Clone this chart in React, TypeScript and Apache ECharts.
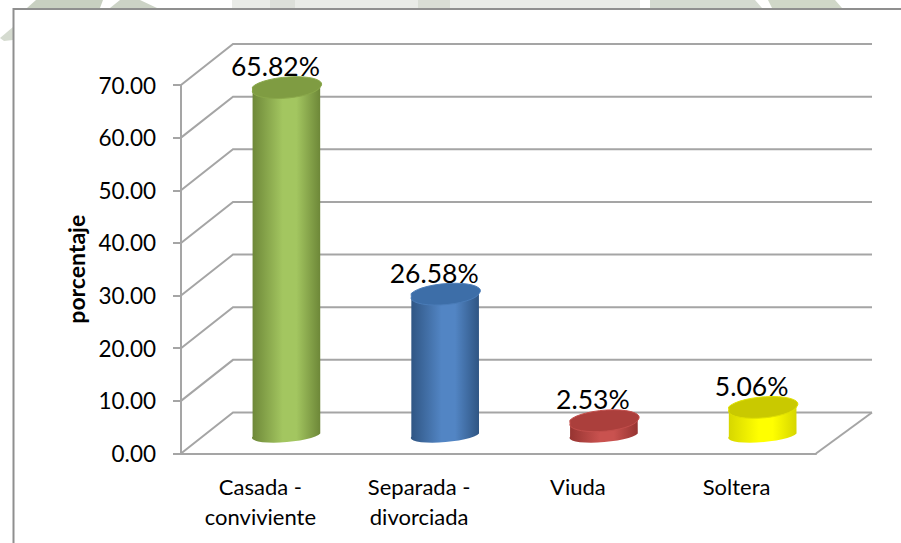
import React, { useEffect, useRef } from "react";
import * as echarts from "echarts";

const categories = ["Casada -\nconviviente", "Separada -\ndivorciada", "Viuda", "Soltera"];
const percentages = [65.82, 26.58, 2.53, 5.06];
const yTicks = [0, 10, 20, 30, 40, 50, 60, 70];
const yTitle = "porcentaje";

const palette = [
  { edge: "#6d8738", mid: "#a3c660", top: "#7f9c42", rim: "#8aa84a" },
  { edge: "#2f5583", mid: "#5285c4", top: "#3d6ea8", rim: "#4a7cb8" },
  { edge: "#963431", mid: "#c9524f", top: "#ab3f3c", rim: "#c24e4b" },
  { edge: "#d6d600", mid: "#ffff00", top: "#c9c900", rim: "#e0e000" },
];

const FONT = "Lato, 'Noto Sans', sans-serif";
const LINE = "#a5a5a5";
const DX = 52;
const DY = -41;

const WASH: [string, number[][]][] = [
  ["#c8d0c1", [[27, 8], [36, 0], [103, 0], [100, 8]]],
  ["#ccd3c6", [[110, 8], [120, 0], [140, 0], [157, 8]]],
  ["#e9ebe7", [[232, 0], [418, 0], [418, 8], [232, 8]]],
  ["#dcdfd9", [[270, 0], [295, 0], [295, 8], [270, 8]]],
  ["#d9ddd5", [[418, 0], [450, 0], [450, 8], [418, 8]]],
  ["#e9ebe7", [[450, 0], [640, 0], [640, 8], [450, 8]]],
  ["#d4dad0", [[650, 0], [755, 0], [762, 8], [650, 8]]],
  ["#d0d7c8", [[768, 0], [835, 0], [842, 8], [772, 8]]],
  ["#d5dbd0", [[0, 38], [13, 27], [13, 40], [4, 41]]],
];

function cylinderItem(params: any, api: any) {
  const i = api.value(0);
  const v = api.value(1);
  const c = palette[i];
  const base = api.coord([i, 0]);
  const top = api.coord([i, v]);
  const cx = base[0] + 26;
  const by = base[1] - 20;
  const ty = top[1] - 20;
  const a = 34;
  const tx = 33.8;
  const tilt = 3;
  const baseArc = `A ${a} 7 -5`;
  const capArc = `A ${a} 9.5 -5`;
  const body =
    `M ${cx - tx} ${ty + tilt} L ${cx - tx} ${by + tilt} ${baseArc} 0 0 ${cx + tx} ${by - tilt} ` +
    `L ${cx + tx} ${ty - tilt} ${capArc} 0 1 ${cx - tx} ${ty + tilt} Z`;
  const cap =
    `M ${cx - tx} ${ty + tilt} ${capArc} 1 0 ${cx + tx} ${ty - tilt} ${capArc} 1 0 ${cx - tx} ${ty + tilt} Z`;
  return {
    type: "group",
    children: [
      {
        type: "path",
        shape: { pathData: body },
        style: {
          fill: new echarts.graphic.LinearGradient(0, 0, 1, 0, [
            { offset: 0, color: c.edge },
            { offset: 0.45, color: c.mid },
            { offset: 0.65, color: c.mid },
            { offset: 1, color: c.edge },
          ]),
        },
      },
      {
        type: "path",
        shape: { pathData: cap },
        style: { fill: c.top, stroke: c.rim, lineWidth: 1 },
      },
      {
        type: "text",
        x: cx - 11,
        y: ty - 21,
        style: {
          text: `${v.toFixed(2)}%`,
          fill: "#000",
          font: `26.5px ${FONT}`,
          textAlign: "center",
          textVerticalAlign: "middle",
        },
      },
    ],
  };
}

function wallItem(params: any, api: any) {
  const v = api.value(1);
  const y = api.coord([0, v])[1];
  const x0 = params.coordSys.x;
  const x1 = x0 + params.coordSys.width;
  const children: any[] = [
    {
      type: "polyline",
      shape: { points: [[x0, y], [x0 + DX, y + DY], [x1 + 56, y + DY]] },
      style: { stroke: LINE, lineWidth: 2, fill: "none" },
    },
  ];
  if (v === 0) {
    children.push({
      type: "line",
      shape: { x1, y1: y, x2: x1 + 56, y2: y + DY },
      style: { stroke: LINE, lineWidth: 2 },
    });
  }
  return { type: "group", children };
}

export default function App() {
  const ref = useRef<HTMLDivElement>(null);
  useEffect(() => {
    document.body.style.margin = "0";
    const chart = echarts.init(ref.current!, null, { renderer: "svg" });
    chart.setOption({
      animation: false,
      backgroundColor: "#fff",
      textStyle: { fontFamily: FONT },
      graphic: [
        ...WASH.map(([fill, points]) => ({
          type: "polygon",
          silent: true,
          shape: { points },
          style: { fill },
        })),
        {
          type: "polyline",
          silent: true,
          shape: { points: [[13.5, 543], [13.5, 9], [901, 9]] },
          style: { stroke: "#8f8f8f", lineWidth: 2, fill: "none" },
        },
      ],
      grid: { left: 181, top: 85, right: 85, bottom: 89.5 },
      xAxis: {
        type: "category",
        data: categories,
        axisTick: { show: false },
        axisLine: { lineStyle: { color: LINE, width: 2 } },
        axisLabel: { color: "#000", fontSize: 22, lineHeight: 30, margin: 18, fontFamily: FONT },
      },
      yAxis: {
        type: "value",
        min: yTicks[0],
        max: yTicks[yTicks.length - 1],
        interval: 10,
        name: yTitle,
        nameLocation: "middle",
        nameGap: 93,
        nameTextStyle: { color: "#000", fontSize: 23, fontWeight: "bold", fontFamily: FONT },
        splitLine: { show: false },
        axisLine: { show: true, lineStyle: { color: LINE, width: 2 } },
        axisTick: { show: true, length: 8, lineStyle: { color: LINE, width: 2 } },
        axisLabel: {
          color: "#000",
          fontSize: 22.5,
          margin: 25,
          fontFamily: FONT,
          formatter: (v: number) => v.toFixed(2),
        },
      },
      series: [
        {
          type: "custom",
          silent: true,
          clip: false,
          z: 1,
          data: yTicks.map((v) => [0, v]),
          encode: { x: 0, y: 1 },
          renderItem: wallItem,
        },
        {
          type: "custom",
          silent: true,
          clip: false,
          z: 3,
          data: percentages.map((v, i) => [i, v]),
          encode: { x: 0, y: 1 },
          renderItem: cylinderItem,
        },
      ],
    });
    return () => chart.dispose();
  }, []);
  return <div ref={ref} style={{ position: "absolute", left: 0, top: 0, width: 901, height: 543 }} />;
}
